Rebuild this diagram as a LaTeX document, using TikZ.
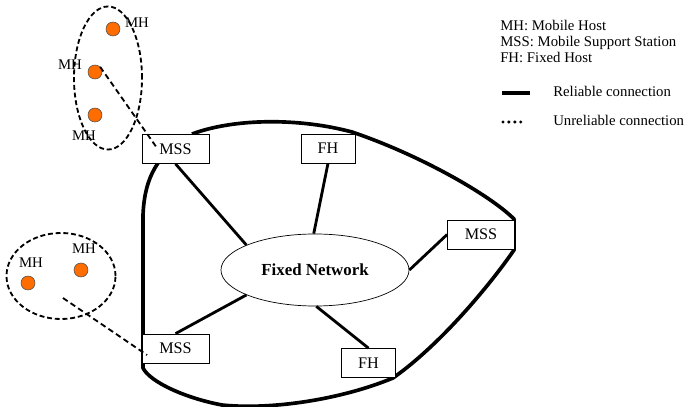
\documentclass[tikz,border=0pt]{standalone}
\usepackage{fontspec}
\setmainfont{Liberation Serif}
\usetikzlibrary{positioning,shapes.geometric}

\begin{document}
\begin{tikzpicture}[
  x=0.025cm, y=-0.025cm,
  font=\fontsize{11.5}{13}\selectfont,
  station/.style={draw, fill=white, line width=0.5pt, inner sep=0pt,
                  minimum width=1.675cm, minimum height=0.725cm},
  fixedhost/.style={station, minimum width=1.35cm},
  host/.style={circle, draw=black!70, fill=orange!85!red, line width=0.4pt,
               inner sep=0pt, minimum size=0.35cm},
  hostlabel/.style={font=\fontsize{10.5}{12}\selectfont, inner sep=0pt},
  legendtext/.style={font=\fontsize{10.5}{12}\selectfont, anchor=base west, inner sep=0pt},
  reliable/.style={line width=2.6pt, line join=round},
  wired/.style={line width=2pt},
  wireless/.style={line width=1.3pt, dash pattern=on 4pt off 2.5pt},
  cell/.style={draw, line width=1.3pt, dash pattern=on 3.5pt off 2pt}
]
\useasboundingbox (0,0) rectangle (686,407);

% outer boundary of the fixed part
\draw[reliable] (192,134) .. controls (235,118) and (300,118) .. (352,132)
  .. controls (420,155) and (490,195) .. (514,219) -- (514,250)
  .. controls (490,285) and (440,345) .. (393,378)
  .. controls (340,400) and (270,410) .. (222,405)
  .. controls (185,398) and (150,382) .. (143,368) -- (143,215)
  .. controls (144,190) and (150,175) .. (158,163);

\node[ellipse, draw, fill=white, line width=0.5pt, inner sep=0pt,
      minimum width=4.7cm, minimum height=1.8cm,
      font=\fontsize{12}{14}\selectfont\bfseries] (net) at (315,270) {Fixed Network};

\node[station] (mssA) at (175.5,149) {MSS};
\node[fixedhost] (fhA) at (328,148.5) {FH};
\node[station] (mssB) at (481,234.5) {MSS};
\node[station] (mssC) at (175.5,348.5) {MSS};
\node[fixedhost] (fhB) at (368.5,363) {FH};

\draw[wired] (mssA.south) -- (net.160);
\draw[wired] (fhA.south) -- (net.92);
\draw[wired] (mssB.west) -- (net.east);
\draw[wired] (mssC.north) -- (net.200);
\draw[wired] (fhB.north) -- (net.272);

% mobile hosts
\node[cell, ellipse, minimum width=1.7cm, minimum height=3.575cm] (cellA) at (108,78) {};
\node[cell, ellipse, minimum width=2.725cm, minimum height=2.15cm] (cellB) at (61,276) {};

\node[host] (mhA) at (113,29) {};
\node[host] (mhB) at (95,72) {};
\node[host] (mhC) at (95,115) {};
\node[host] (mhD) at (28,283) {};
\node[host] (mhE) at (81,270) {};

\node[hostlabel] at (137,23) {MH};
\node[hostlabel] at (70,65) {MH};
\node[hostlabel] at (84,136) {MH};
\node[hostlabel] at (31,263) {MH};
\node[hostlabel] at (84,249) {MH};

\coordinate (linkA) at (157,148);
\coordinate (linkB0) at (63,298);
\coordinate (linkB) at (147,355);
\draw[wireless] (mhB.north east) -- (linkA);
\draw[wireless] (linkB0) -- (linkB);

% legend
\node[legendtext] (keyMH) at (500,31) {MH: Mobile Host};
\node[legendtext] (keyMSS) at (500,47) {MSS: Mobile Support Station};
\node[legendtext] (keyFH) at (500,63) {FH: Fixed Host};
\node[legendtext] (keyRel) at (553,97) {Reliable connection};
\node[legendtext] (keyUnrel) at (553,126) {Unreliable connection};
\draw[line width=2.6pt] (502,93) -- (530,93);
\draw[line width=2.4pt, line cap=round, dash pattern=on 0pt off 4.2pt] (503,122) -- (523,122);
\end{tikzpicture}
\end{document}
